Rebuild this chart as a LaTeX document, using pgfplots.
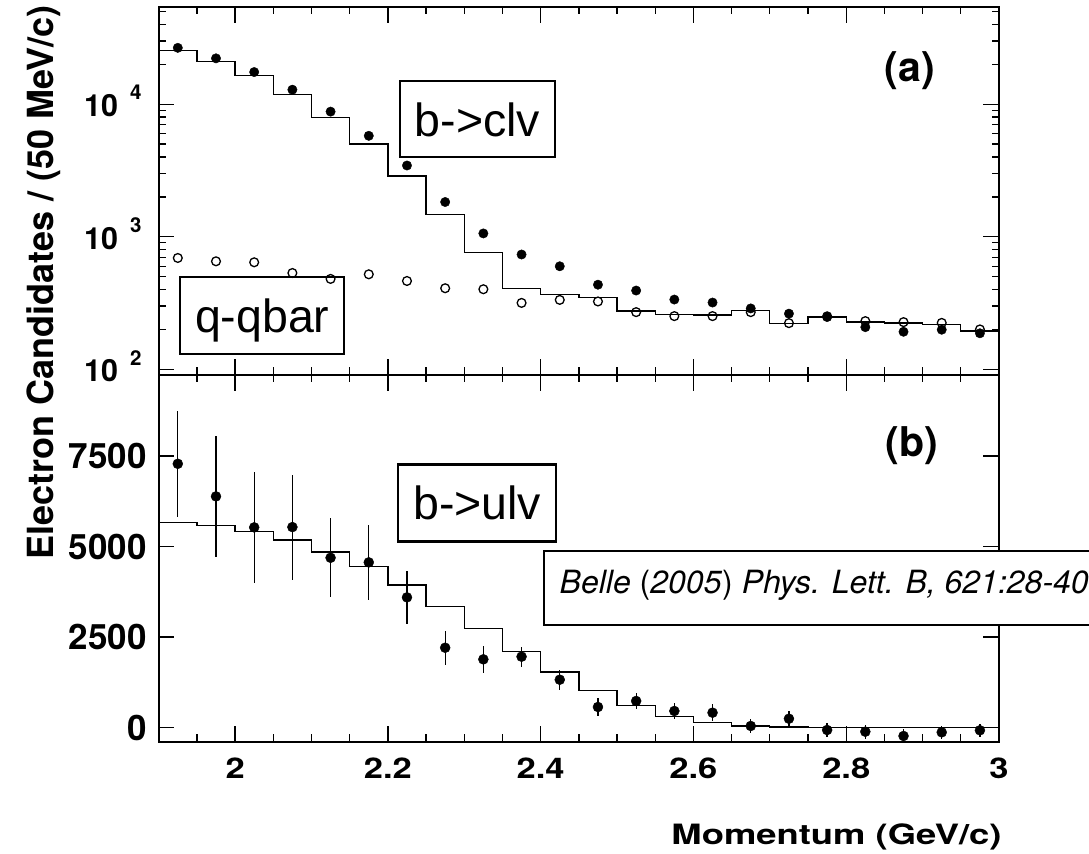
\documentclass[border=0pt]{standalone}
\usepackage{fontspec}
\setmainfont{TeX Gyre Heros}
\newfontfamily\lib{Liberation Sans}
\usepackage{graphicx}
\usepackage{pgfplots}
\pgfplotsset{compat=1.18}
\newcommand\fs[1]{\fontsize{#1bp}{#1bp}\selectfont}
\newcommand\tlab[1]{\mbox{\fs{30.5}\bfseries 10\hspace{12bp}\raisebox{16.7bp}{\fs{20.5}\bfseries #1}}}
\newcommand\sx[1]{\mbox{\scalebox{1.21}[1]{#1}}}
\tikzset{boxnode/.style={draw, line width=2.2bp, font=\fs{46.5}\lib, text depth=0pt, inner sep=0pt, anchor=center}}
\begin{document}
\begin{tikzpicture}[x=1bp,y=1bp]
\useasboundingbox (0,0) rectangle (1089,854);
\pgfplotsset{
  rootstyle/.style={
    scale only axis, width=840.3bp, xmin=1.9, xmax=3,
    axis line style={line width=2bp, black},
    tick style={line width=1.3bp, black},
    tick align=inside, tick pos=both,
    major tick length=15.7bp, minor tick length=7.5bp,
    xtick={2,2.2,2.4,2.6,2.8,3},
    minor xtick={1.95,2.05,2.1,2.15,2.25,2.3,2.35,2.45,2.5,2.55,2.65,2.7,2.75,2.85,2.9,2.95},
  }
}
% ---------------- top panel ----------------
\begin{axis}[rootstyle, at={(158.7bp,479bp)}, anchor=south west, height=368bp,
  ymode=log, ymin=90.6, ymax=54200,
  xticklabels={},
  ytick={100,1000,10000}, yticklabels={\tlab{2},\tlab{3},\tlab{4}},
  minor ytick={200,300,400,500,600,700,800,900,2000,3000,4000,5000,6000,7000,8000,9000,20000,30000,40000,50000},
  yticklabel style={font=\fs{30.5}\bfseries, anchor=base east, inner sep=0pt, xshift=-17bp, yshift=-12.4bp},
  ylabel={Electron Candidates / (50 MeV/c)},
  ylabel style={font=\fs{36}\bfseries, at={(axis description cs:-0.1254,1.0054)}, anchor=base east, inner sep=0pt},
]
\addplot[const plot, line width=1.3bp, black] coordinates {
(1.90,25300) (1.95,21000) (2.00,16500) (2.05,11800) (2.10,7980) (2.15,5000)
(2.20,2877) (2.25,1473) (2.30,764) (2.35,407) (2.40,366) (2.45,347)
(2.50,275) (2.55,259) (2.60,257) (2.65,278) (2.70,221) (2.75,248)
(2.80,228) (2.85,223) (2.90,219) (2.95,195) (3.00,195)};
\addplot[only marks, mark=o, mark size=4.4bp, mark options={line width=1.3bp}, black] coordinates {
(1.925,692) (1.975,653) (2.025,642) (2.075,533) (2.125,481) (2.175,521)
(2.225,464) (2.275,409) (2.325,402) (2.375,317) (2.425,334) (2.475,325)
(2.525,270) (2.575,252) (2.625,252) (2.675,270) (2.725,223) (2.775,251)
(2.825,231) (2.875,227) (2.925,224) (2.975,200)};
\addplot[only marks, mark=*, mark size=4.7bp, black] coordinates {
(1.925,26650) (1.975,22200) (2.025,17500) (2.075,12880) (2.125,8800) (2.175,5780)
(2.225,3450) (2.275,1830) (2.325,1060) (2.375,735) (2.425,599) (2.475,435)
(2.525,393) (2.575,336) (2.625,319) (2.675,288) (2.725,263) (2.775,248)
(2.825,208) (2.875,192) (2.925,199) (2.975,187)};
\node[boxnode, minimum width=155bp, minimum height=76bp] at (axis description cs:0.3794,0.6951) {b->clv};
\node[boxnode, minimum width=164bp, minimum height=77bp] at (axis description cs:0.1232,0.1622) {q-qbar};
\node[font=\fs{41}\bfseries, anchor=base, inner sep=0pt] at (axis description cs:0.8941,0.7962) {(a)};
\end{axis}
% ---------------- bottom panel ----------------
\begin{axis}[rootstyle, at={(158.7bp,112bp)}, anchor=south west, height=367bp,
  ymin=-395, ymax=9735, scaled y ticks=false,
  ytick={0,2500,5000,7500}, yticklabels={\mbox{0},\mbox{2500},\mbox{5000},\mbox{7500}},
  xticklabels={\sx{2},\sx{2.2},\sx{2.4},\sx{2.6},\sx{2.8},\sx{3}},
  yticklabel style={font=\fs{35}\bfseries, inner sep=0pt, xshift=-12bp},
  xticklabel style={font=\fs{28.5}\bfseries, inner sep=0pt, yshift=-16bp},
  xlabel={\scalebox{1.3}[1]{Momentum (GeV/c)}},
  xlabel style={font=\fs{28}\bfseries, at={(axis description cs:1.0032,-0.2806)}, anchor=base east, inner sep=0pt},
]
\addplot[const plot, line width=1.3bp, black] coordinates {
(1.90,5656) (1.95,5584) (2.00,5408) (2.05,5179) (2.10,4848) (2.15,4442)
(2.20,3937) (2.25,3349) (2.30,2742) (2.35,2108) (2.40,1537) (2.45,1021)
(2.50,607) (2.55,314) (2.60,149) (2.65,47) (2.70,19) (2.75,5)
(2.80,3) (2.85,2) (2.90,1) (2.95,1) (3.00,1)};
\addplot[only marks, mark=*, mark size=5bp, black,
  error bars/.cd, y dir=both, y explicit, error mark=none,
  error bar style={line width=1.3bp, black}] coordinates {
(1.925,7284) +- (0,1470)
(1.975,6384) +- (0,1670)
(2.025,5529) +- (0,1530)
(2.075,5537) +- (0,1450)
(2.125,4690) +- (0,1090)
(2.175,4563) +- (0,1035)
(2.225,3597) +- (0,735)
(2.275,2207) +- (0,470)
(2.325,1887) +- (0,365)
(2.375,1960) +- (0,280)
(2.425,1324) +- (0,275)
(2.475,571) +- (0,245)
(2.525,737) +- (0,230)
(2.575,461) +- (0,220)
(2.625,414) +- (0,230)
(2.675,47) +- (0,200)
(2.725,248) +- (0,220)
(2.775,-64) +- (0,200)
(2.825,-110) +- (0,190)
(2.875,-229) +- (0,180)
(2.925,-128) +- (0,180)
(2.975,-72) +- (0,180)};
\node[boxnode, minimum width=158bp, minimum height=77bp] at (axis description cs:0.3790,0.6512) {b->ulv};
\node[font=\fs{41}\bfseries, anchor=base, inner sep=0pt] at (axis description cs:0.8959,0.7782) {(b)};
\end{axis}
% citation box, drawn over the frame
\node[draw, line width=2bp, fill=white, anchor=west, inner xsep=15.4bp, inner ysep=0pt,
  minimum height=74bp, text height=23bp, text depth=11.4bp, font=\fs{32}]
  at (543.3,266) {\textit{Belle} (\textit{2005}) \textit{Phys. Lett. B, 621:28-40}};
\end{tikzpicture}
\end{document}
